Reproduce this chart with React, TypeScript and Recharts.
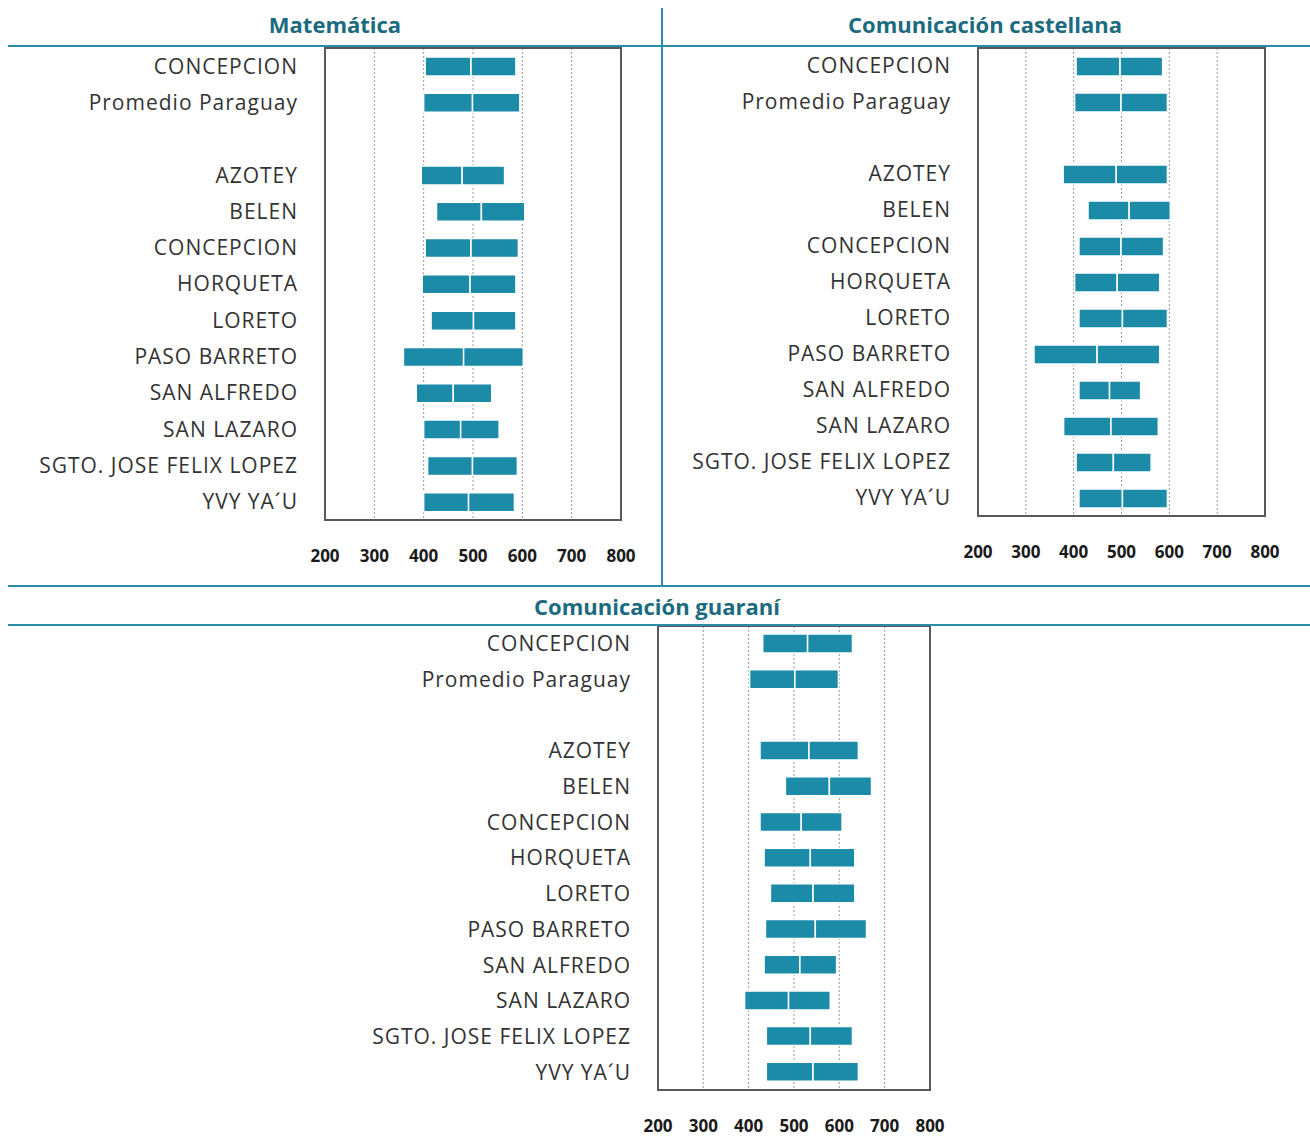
import { BarChart, Bar, XAxis, YAxis, CartesianGrid, ReferenceArea } from 'recharts';

const categories = [
  'CONCEPCION',
  'Promedio Paraguay',
  '',
  'AZOTEY',
  'BELEN',
  'CONCEPCION',
  'HORQUETA',
  'LORETO',
  'PASO BARRETO',
  'SAN ALFREDO',
  'SAN LAZARO',
  'SGTO. JOSE FELIX LOPEZ',
  'YVY YA´U',
];

const xTicks = [200, 300, 400, 500, 600, 700, 800];

// low / median / high per row (blank row = null)
const matLow = [403, 400, null, 395, 426, 403, 397, 415, 359, 385, 400, 408, 400];
const matMid = [496, 499, null, 478, 517, 496, 494, 501, 481, 460, 475, 499, 491];
const matHigh = [587, 595, null, 564, 605, 592, 587, 587, 602, 538, 553, 590, 584];

const casLow = [405, 402, null, 378, 430, 411, 402, 411, 317, 411, 379, 405, 411];
const casMid = [497, 499, null, 489, 516, 499, 491, 502, 449, 475, 478, 483, 502];
const casHigh = [586, 596, null, 596, 602, 588, 580, 596, 580, 540, 577, 562, 596];

const guaLow = [431, 402, null, 425, 481, 425, 434, 448, 437, 434, 391, 439, 439];
const guaMid = [530, 502, null, 533, 578, 516, 536, 542, 547, 513, 488, 536, 542];
const guaHigh = [629, 598, null, 642, 671, 606, 634, 634, 660, 594, 580, 629, 642];

const FONT = '"Open Sans", sans-serif';
const BAR = '#1b8ba8';
const TEAL = '#2a8ea8';
const TITLE = '#1b6b80';
const BORDER = '#595959';

function buildRows(low, mid, high) {
  return categories.map((label, i) => {
    if (low[i] == null) return { id: String(i), label };
    return {
      id: String(i),
      label,
      base: low[i],
      a: mid[i] - low[i],
      b: high[i] - mid[i],
    };
  });
}

function Panel({ low, mid, high, left, top, width, height, margin, yWidth }) {
  const rows = buildRows(low, mid, high);
  return (
    <div style={{ position: 'absolute', left, top }}>
      <BarChart
        width={width}
        height={height}
        data={rows}
        layout='vertical'
        margin={margin}
        barCategoryGap={0}
      >
        <CartesianGrid
          horizontal={false}
          stroke='#9a9a9a'
          strokeDasharray='2 2'
        />
        <XAxis
          type='number'
          domain={[200, 800]}
          ticks={xTicks}
          allowDataOverflow
          height={60}
          tickSize={0}
          tickMargin={30}
          axisLine={false}
          tick={{ fontFamily: FONT, fontWeight: 700, fontSize: 17, fill: '#1a1a1a' }}
        />
        <YAxis
          type='category'
          dataKey='id'
          width={yWidth}
          tickSize={0}
          tickMargin={27}
          axisLine={false}
          tickFormatter={(v) => categories[Number(v)]}
          tick={{ fontFamily: FONT, fontSize: 21, fill: '#333333', letterSpacing: 1 }}
          interval={0}
        />
        <Bar dataKey='base' stackId='s' fill='transparent' barSize={19} isAnimationActive={false} />
        <Bar dataKey='a' stackId='s' fill={BAR} stroke='#ffffff' strokeWidth={1.5} barSize={19} isAnimationActive={false} />
        <Bar dataKey='b' stackId='s' fill={BAR} stroke='#ffffff' strokeWidth={1.5} barSize={19} isAnimationActive={false} />
        <ReferenceArea
          x1={200}
          x2={800}
          fill='none'
          fillOpacity={0}
          stroke={BORDER}
          strokeWidth={2}
          ifOverflow='visible'
        />
      </BarChart>
    </div>
  );
}

function Title({ text, x, y }) {
  return (
    <div
      style={{
        position: 'absolute',
        left: x - 200,
        top: y - 16,
        width: 400,
        textAlign: 'center',
        fontFamily: FONT,
        fontWeight: 700,
        fontSize: 22,
        lineHeight: '30px',
        color: TITLE,
      }}
    >
      {text}
    </div>
  );
}

function Rule({ x, y, w, h }) {
  return <div style={{ position: 'absolute', left: x, top: y, width: w, height: h, background: TEAL }} />;
}

export default function App() {
  return (
    <div style={{ position: 'absolute', left: 0, top: 0, width: 1310, height: 1139, background: '#fff' }}>
      <Panel
        low={matLow}
        mid={matMid}
        high={matHigh}
        left={0}
        top={0}
        width={661}
        height={580}
        margin={{ top: 48, right: 40, bottom: 0, left: 0 }}
        yWidth={325}
      />
      <Panel
        low={casLow}
        mid={casMid}
        high={casHigh}
        left={662}
        top={0}
        width={648}
        height={576}
        margin={{ top: 48, right: 45, bottom: 0, left: 0 }}
        yWidth={316}
      />
      <Panel
        low={guaLow}
        mid={guaMid}
        high={guaHigh}
        left={0}
        top={586}
        width={1310}
        height={564}
        margin={{ top: 40, right: 380, bottom: 0, left: 0 }}
        yWidth={658}
      />
      <Title text='Matemática' x={335} y={25} />
      <Title text='Comunicación castellana' x={985} y={25} />
      <Title text='Comunicación guaraní' x={657} y={607} />
      <Rule x={8} y={45} w={1302} h={2} />
      <Rule x={661} y={8} w={2} h={577} />
      <Rule x={8} y={585} w={1302} h={2} />
      <Rule x={8} y={624} w={1302} h={2} />
    </div>
  );
}
